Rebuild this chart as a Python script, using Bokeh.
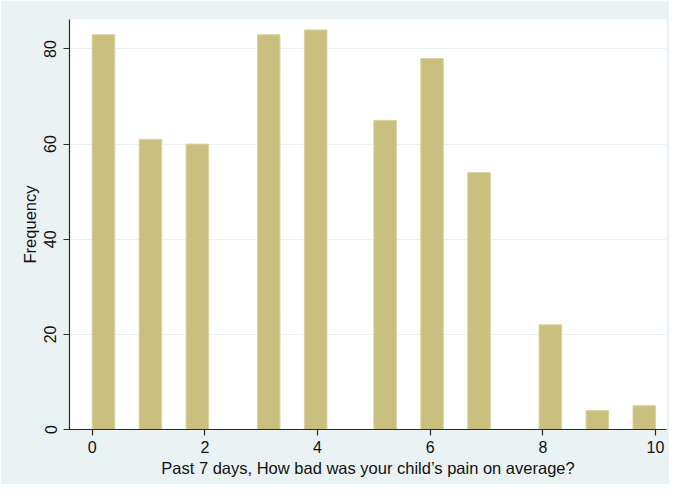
from bokeh.plotting import figure
from bokeh.models import Range1d, FixedTicker
from bokeh.embed import file_html
from bokeh.resources import INLINE

# Pain score categories and their frequencies
pain_score = [0, 1, 2, 3, 4, 5, 6, 7, 8, 9, 10]
frequency = [83, 61, 60, 83, 84, 65, 78, 54, 22, 4, 5]
# bar edges on the x scale (Stata histogram bins)
bar_left = [0.0, 0.833, 1.667, 2.933, 3.767, 5.0, 5.833, 6.667, 7.933, 8.767, 9.6]
bar_right = [0.4, 1.233, 2.067, 3.333, 4.167, 5.4, 6.233, 7.067, 8.333, 9.167, 10.0]

x_ticks = [0, 2, 4, 6, 8, 10]
y_ticks = [0, 20, 40, 60, 80]

FONT = "Liberation Sans"
BG = "#eaf2f3"

p = figure(width=669, height=484, output_backend="svg", toolbar_location=None,
           x_range=Range1d(-0.403, 10.195), y_range=Range1d(0, 86.2),
           min_border_left=69, min_border_right=3, min_border_top=19, min_border_bottom=55)

p.quad(left=bar_left, right=bar_right, bottom=[0] * len(frequency), top=frequency,
       fill_color="#c9c080", line_color="#d8d2a2", line_width=1)

p.background_fill_color = "white"
p.border_fill_color = BG
p.outline_line_color = None

p.xgrid.grid_line_color = None
p.ygrid.grid_line_color = BG
p.ygrid.grid_line_width = 1.2
p.ygrid.ticker = FixedTicker(ticks=y_ticks)

p.xaxis.ticker = FixedTicker(ticks=x_ticks)
p.yaxis.ticker = FixedTicker(ticks=y_ticks)

p.xaxis.axis_label = "Past 7 days, How bad was your child\u2019s pain on average?"
p.yaxis.axis_label = "Frequency"

for ax in (p.xaxis[0], p.yaxis[0]):
    ax.axis_line_color = "#2a2a2a"
    ax.axis_line_width = 1.2
    ax.major_tick_line_color = "#2a2a2a"
    ax.major_tick_line_width = 1.2
    ax.major_tick_in = 0
    ax.major_tick_out = 6
    ax.minor_tick_line_color = None
    ax.major_label_text_font = FONT
    ax.major_label_text_font_size = "16px"
    ax.major_label_text_color = "#111111"
    ax.axis_label_text_font = FONT
    ax.axis_label_text_font_size = "16.5px"
    ax.axis_label_text_font_style = "normal"
    ax.axis_label_text_color = "#111111"

p.yaxis.major_label_orientation = "vertical"
p.xaxis.major_label_standoff = 5
p.xaxis.axis_label_standoff = 3
p.yaxis.major_label_standoff = 7
p.yaxis.axis_label_standoff = 3

open("out.html", "w").write(file_html(p, INLINE))
